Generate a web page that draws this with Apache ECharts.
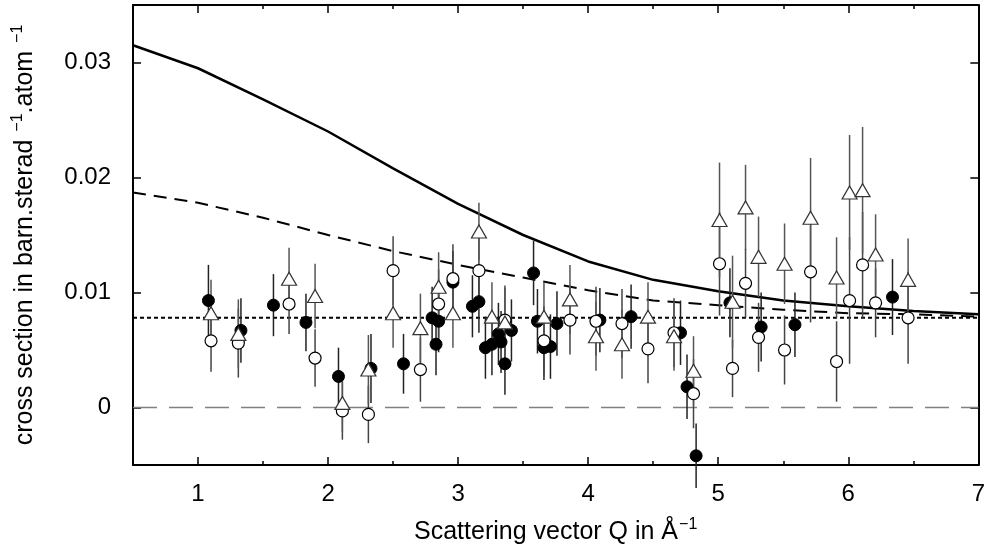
<!DOCTYPE html>
<html>
<head>
<meta charset="utf-8">
<script src="https://cdn.jsdelivr.net/npm/echarts@6/dist/echarts.min.js"></script>
<style>html,body{margin:0;padding:0;background:#fff}#c{width:988px;height:555px}</style>
</head>
<body>
<div id="c"></div>
<script>
// ---- data ----
const xTicks = [1, 2, 3, 4, 5, 6, 7];
const xMinorTicks = [1.5, 2.5, 3.5, 4.5, 5.5, 6.5];
const yTicks = [0, 0.01, 0.02, 0.03];

const qCurve = [0.5, 1, 1.5, 2, 2.5, 3, 3.5, 4, 4.5, 5, 5.5, 6, 6.5, 7];
const solidCurve = [0.0315, 0.0295, 0.0268, 0.0240, 0.0208, 0.0177, 0.0150, 0.0127, 0.0111, 0.0101, 0.0093, 0.0088, 0.0084, 0.0081];
const dashedCurve = [0.0187, 0.0178, 0.0165, 0.0150, 0.0136, 0.0124, 0.0113, 0.0102, 0.0093, 0.0089, 0.0085, 0.0082, 0.0081, 0.0079];
const dottedLevel = 0.0078;
const zeroLevel = 0;

const qFilled = [1.08, 1.33, 1.58, 1.83, 2.08, 2.33, 2.58, 2.80, 2.83, 2.85, 2.96, 3.11, 3.16, 3.21, 3.26, 3.31, 3.33, 3.36, 3.41, 3.58, 3.61, 3.66, 3.71, 3.76, 4.09, 4.33, 4.71, 4.76, 4.83, 5.09, 5.33, 5.59, 6.34];
const yFilled = [0.0093, 0.0067, 0.0089, 0.0074, 0.0027, 0.0034, 0.0038, 0.0078, 0.0055, 0.0075, 0.0109, 0.0088, 0.0092, 0.0052, 0.0055, 0.0064, 0.0057, 0.0038, 0.0067, 0.0117, 0.0075, 0.0052, 0.0053, 0.0073, 0.0076, 0.0079, 0.0065, 0.0018, -0.0042, 0.0091, 0.0070, 0.0072, 0.0096];
const eFilled = [0.0031, 0.0028, 0.0027, 0.0025, 0.0025, 0.0030, 0.0026, 0.0027, 0.0027, 0.0027, 0.0027, 0.0027, 0.0027, 0.0027, 0.0027, 0.0027, 0.0027, 0.0027, 0.0027, 0.0028, 0.0028, 0.0028, 0.0028, 0.0028, 0.0028, 0.0028, 0.0028, 0.0028, 0.0028, 0.0030, 0.0030, 0.0028, 0.0033];

const qOpen = [1.10, 1.31, 1.70, 1.90, 2.11, 2.31, 2.50, 2.71, 2.85, 2.96, 3.16, 3.36, 3.66, 3.86, 4.06, 4.26, 4.46, 4.66, 4.81, 5.01, 5.11, 5.21, 5.31, 5.51, 5.71, 5.91, 6.01, 6.11, 6.21, 6.46];
const yOpen = [0.0058, 0.0056, 0.0090, 0.0043, -0.0003, -0.0006, 0.0119, 0.0033, 0.0090, 0.0112, 0.0119, 0.0076, 0.0058, 0.0076, 0.0075, 0.0073, 0.0051, 0.0065, 0.0012, 0.0125, 0.0034, 0.0108, 0.0061, 0.0050, 0.0118, 0.0040, 0.0093, 0.0124, 0.0091, 0.0078];
const eOpen = [0.0027, 0.0030, 0.0026, 0.0025, 0.0025, 0.0025, 0.0030, 0.0028, 0.0030, 0.0030, 0.0030, 0.0030, 0.0030, 0.0030, 0.0030, 0.0030, 0.0030, 0.0030, 0.0030, 0.0045, 0.0025, 0.0030, 0.0030, 0.0030, 0.0044, 0.0035, 0.0055, 0.0046, 0.0030, 0.0040];

const qTri = [1.10, 1.31, 1.70, 1.90, 2.11, 2.31, 2.50, 2.71, 2.85, 2.96, 3.16, 3.26, 3.36, 3.66, 3.86, 4.06, 4.26, 4.46, 4.66, 4.81, 5.01, 5.11, 5.21, 5.31, 5.51, 5.71, 5.91, 6.01, 6.11, 6.21, 6.46];
const yTri = [0.0082, 0.0064, 0.0112, 0.0097, 0.0004, 0.0033, 0.0082, 0.0069, 0.0105, 0.0082, 0.0153, 0.0079, 0.0074, 0.0079, 0.0094, 0.0062, 0.0055, 0.0079, 0.0062, 0.0032, 0.0163, 0.0092, 0.0174, 0.0131, 0.0125, 0.0165, 0.0113, 0.0187, 0.0189, 0.0133, 0.0111];
const eTri = [0.0029, 0.0030, 0.0027, 0.0028, 0.0025, 0.0030, 0.0030, 0.0030, 0.0030, 0.0030, 0.0025, 0.0030, 0.0030, 0.0030, 0.0030, 0.0030, 0.0030, 0.0030, 0.0030, 0.0030, 0.0050, 0.0040, 0.0037, 0.0035, 0.0035, 0.0052, 0.0035, 0.0050, 0.0055, 0.0035, 0.0036];

// ---- build ----
const FONT = "'Liberation Sans', Arial, Helvetica, sans-serif";
const zip3 = (a, b, c) => a.map((v, i) => [v, b[i], c[i]]);
const zip2 = (a, b) => a.map((v, i) => [v, b[i]]);

function errSeries(q, y, e, color) {
  return {
    type: 'custom', xAxisIndex: 0, yAxisIndex: 0, z: 3,
    data: zip3(q, y, e), encode: { x: 0, y: 1 },
    renderItem: function (params, api) {
      const x = api.value(0), v = api.value(1), d = api.value(2);
      const p1 = api.coord([x, v - d]), p2 = api.coord([x, v + d]);
      return { type: 'line', shape: { x1: p1[0], y1: p1[1], x2: p2[0], y2: p2[1] },
        style: { stroke: color, lineWidth: 1.5 } };
    }
  };
}

const richTitle = {
  n: { fontSize: 25, color: '#000', fontFamily: FONT, lineHeight: 30 },
  s: { fontSize: 16, color: '#000', fontFamily: FONT, verticalAlign: 'top', lineHeight: 30, padding: [0, 0, 0, 1] }
};

const xMin = 0.5, xMax = 7, yMin = -0.005, yMax = 0.035;
function xAx(pos, major, labels, name) {
  return {
    type: 'value', position: pos, min: xMin, max: xMax,
    axisLine: { show: major, onZero: false, lineStyle: { color: '#000', width: 2 } },
    axisTick: { show: true, inside: true, length: major ? 8 : 4, customValues: major ? xTicks : xMinorTicks,
      lineStyle: { color: '#000', width: 1.5 } },
    axisLabel: labels ? { show: true, customValues: xTicks, fontSize: 24, color: '#000', fontFamily: FONT, margin: 17 } : { show: false },
    splitLine: { show: false },
    name: name || '', nameLocation: 'middle', nameGap: 52,
    nameTextStyle: { fontSize: 25, color: '#000', fontFamily: FONT, rich: richTitle }
  };
}
function yAx(pos, labels, name) {
  return {
    type: 'value', position: pos, min: yMin, max: yMax,
    axisLine: { show: true, onZero: false, lineStyle: { color: '#000', width: 2 } },
    axisTick: { show: true, inside: true, length: 8, customValues: yTicks, lineStyle: { color: '#000', width: 1.5 } },
    axisLabel: labels ? { show: true, customValues: yTicks, fontSize: 24, color: '#000', fontFamily: FONT, margin: 22,
      formatter: v => (Math.abs(v) < 1e-9 ? '0' : v.toFixed(2)) } : { show: false },
    splitLine: { show: false },
    name: name || '', nameLocation: 'middle', nameGap: 93, nameRotate: 90,
    nameTextStyle: { fontSize: 25, color: '#000', fontFamily: FONT, rich: richTitle }
  };
}

const option = {
  animation: false,
  backgroundColor: '#fff',
  grid: { left: 133, right: 8, top: 5, bottom: 90, containLabel: false },
  xAxis: [
    xAx('bottom', true, true, '{n|Scattering vector Q in Å}{s|−1}'),
    xAx('bottom', false, false),
    xAx('top', true, false),
    xAx('top', false, false)
  ],
  yAxis: [
    yAx('left', true, '{n|cross section in barn.sterad }{s|−1}{n|.atom }{s|−1}'),
    yAx('right', false)
  ],
  series: [
    { type: 'line', data: [[xMin, zeroLevel], [xMax, zeroLevel]], symbol: 'none', z: 1,
      lineStyle: { color: '#808080', width: 1.5, type: [24, 12] } },
    { type: 'line', data: [[xMin, dottedLevel], [xMax, dottedLevel]], symbol: 'none', z: 1,
      lineStyle: { color: '#000', width: 2, type: [4, 3] } },
    { type: 'line', data: zip2(qCurve, dashedCurve), symbol: 'none', z: 1,
      lineStyle: { color: '#000', width: 2, type: [13, 8] } },
    { type: 'line', data: zip2(qCurve, solidCurve), symbol: 'none', z: 1,
      lineStyle: { color: '#000', width: 2.5 } },
    errSeries(qFilled, yFilled, eFilled, '#222'),
    errSeries(qOpen, yOpen, eOpen, '#444'),
    errSeries(qTri, yTri, eTri, '#555'),
    { type: 'scatter', data: zip2(qFilled, yFilled), symbol: 'circle', symbolSize: 12, z: 4,
      itemStyle: { color: '#000', borderColor: '#000', borderWidth: 1, opacity: 1 } },
    { type: 'scatter', data: zip2(qOpen, yOpen), symbol: 'circle', symbolSize: 12, z: 5,
      itemStyle: { color: '#fff', borderColor: '#000', borderWidth: 1.2, opacity: 1 } },
    { type: 'scatter', data: zip2(qTri, yTri), symbol: 'triangle', symbolSize: [15, 13], z: 6,
      itemStyle: { color: '#fff', borderColor: '#333', borderWidth: 1.2, opacity: 1 } }
  ]
};

const chart = echarts.init(document.getElementById('c'), null, { renderer: 'canvas' });
chart.setOption(option);
</script>
</body>
</html>
